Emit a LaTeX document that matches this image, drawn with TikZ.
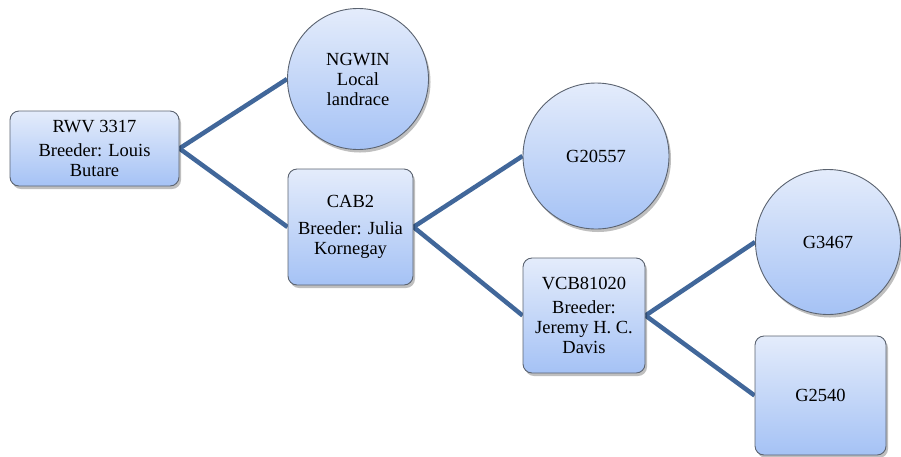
\documentclass[tikz,border=0pt]{standalone}
\usepackage{fontspec}
\setmainfont{Liberation Serif}
\usetikzlibrary{shadows,backgrounds}
\definecolor{linkblue}{HTML}{41679A}
\definecolor{topfill}{HTML}{E4ECFB}
\definecolor{botfill}{HTML}{A5C2F5}
\definecolor{edgegray}{HTML}{5B6370}
\tikzset{
  filled/.style={draw=edgegray, line width=0.9pt, top color=topfill, bottom color=botfill,
    drop shadow={shadow xshift=2pt, shadow yshift=-3pt, fill=black, opacity=0.25},
    align=center, inner sep=0pt, font=\fontsize{18.5}{20}\selectfont},
  boxnode/.style={filled, rounded corners=9pt},
  circnode/.style={filled, circle},
  link/.style={draw=linkblue, line width=4.5pt}
}
\begin{document}
\begin{tikzpicture}[x=1pt,y=-1pt]
\useasboundingbox (0,0) rectangle (901,456);
\node[boxnode, minimum width=169pt, minimum height=75pt] (rwv) at (94.5,148.5) {RWV 3317\\[4pt]Breeder: Louis\\Butare};
\node[circnode, minimum size=141pt] (ngwin) at (358,79) {NGWIN\\Local\\landrace};
\node[boxnode, minimum width=125pt, minimum height=116pt] (cab) at (350.5,227) {CAB2\\[7pt]Breeder: Julia\\Kornegay};
\node[circnode, minimum size=146pt] (g20557) at (596,156) {G20557};
\node[boxnode, minimum width=122pt, minimum height=115pt] (vcb) at (584,315.5) {VCB81020\\[4pt]Breeder:\\Jeremy H. C.\\Davis};
\node[circnode, minimum size=145pt] (g3467) at (828,242) {G3467};
\node[boxnode, minimum width=131pt, minimum height=119pt] (g2540) at (820.5,395.5) {G2540};
\begin{scope}[on background layer]
\draw[link] (rwv.east) -- (ngwin.west);
\draw[link] (rwv.east) -- (cab.west);
\draw[link] (cab.east) -- (g20557.west);
\draw[link] (cab.east) -- (vcb.west);
\draw[link] (vcb.east) -- (g3467.west);
\draw[link] (vcb.east) -- (g2540.west);
\end{scope}
\end{tikzpicture}
\end{document}
